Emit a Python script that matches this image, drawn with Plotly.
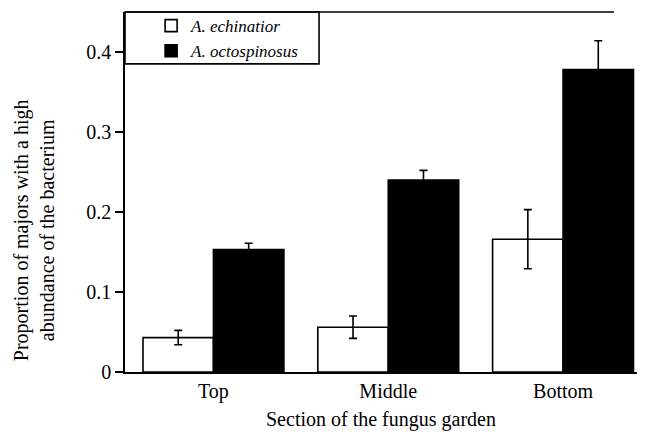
import plotly.graph_objects as go

sections = ["Top", "Middle", "Bottom"]
echinatior = [0.043, 0.056, 0.166]
echinatior_err = [0.009, 0.014, 0.037]
octospinosus = [0.153, 0.240, 0.378]
octospinosus_err = [0.008, 0.012, 0.036]
y_ticks = [0, 0.1, 0.2, 0.3, 0.4]
y_tick_labels = ["0", "0.1", "0.2", "0.3", "0.4"]

FONT = "Liberation Serif, Times New Roman, DejaVu Serif, serif"

fig = go.Figure()
fig.add_trace(go.Bar(
    name="<i>A. echinatior</i>", x=sections, y=echinatior,
    marker=dict(color="white", line=dict(color="black", width=1.6)),
    error_y=dict(type="data", array=echinatior_err, color="black", thickness=1.6, width=4),
))
fig.add_trace(go.Bar(
    name="<i>A. octospinosus</i>", x=sections, y=octospinosus,
    marker=dict(color="black", line=dict(color="black", width=1.6)),
    error_y=dict(type="data", array=octospinosus_err, color="black", thickness=1.6, width=4),
))

fig.update_layout(
    width=640, height=424,
    margin=dict(l=117, r=11, t=4, b=60, autoexpand=False),
    paper_bgcolor="white", plot_bgcolor="white",
    barmode="group", bargap=0.194, bargroupgap=0,
    font=dict(family=FONT, size=20, color="black"),
    showlegend=True,
    legend=dict(x=0.051, y=1.011, xanchor="left", yanchor="top",
                bgcolor="rgba(0,0,0,0)", borderwidth=0,
                font=dict(family=FONT, size=17, color="black"),
                itemwidth=30, tracegroupgap=0),
    xaxis=dict(range=[-0.506, 2.423], showline=True, linecolor="black", linewidth=1.6,
               ticks="", showgrid=False, zeroline=False,
               tickfont=dict(family=FONT, size=20)),
    yaxis=dict(range=[0, 0.45], showline=True, linecolor="black", linewidth=1.6,
               ticks="outside", ticklen=8, tickwidth=1.6, tickcolor="black",
               tickvals=y_ticks, ticktext=y_tick_labels,
               showgrid=False, zeroline=False, tickfont=dict(family=FONT, size=20)),
    shapes=[
        dict(type="line", xref="paper", yref="paper", x0=0, x1=0.955, y0=1, y1=1,
             line=dict(color="black", width=1.6)),
        dict(type="rect", xref="paper", yref="paper", x0=0, x1=0.379, y0=0.856, y1=1,
             line=dict(color="black", width=1.6), fillcolor="rgba(0,0,0,0)"),
    ],
    annotations=[
        dict(text="Proportion of majors with a high<br>abundance of the bacterium",
             xref="paper", yref="paper", x=0, y=0.394, xshift=-91,
             xanchor="center", yanchor="middle", textangle=-90, showarrow=False,
             font=dict(family=FONT, size=20)),
        dict(text="Section of the fungus garden", xref="paper", yref="paper",
             x=0.5, y=-0.133, xanchor="center", yanchor="middle", showarrow=False,
             font=dict(family=FONT, size=20)),
    ],
)

fig.write_html("out.html")
